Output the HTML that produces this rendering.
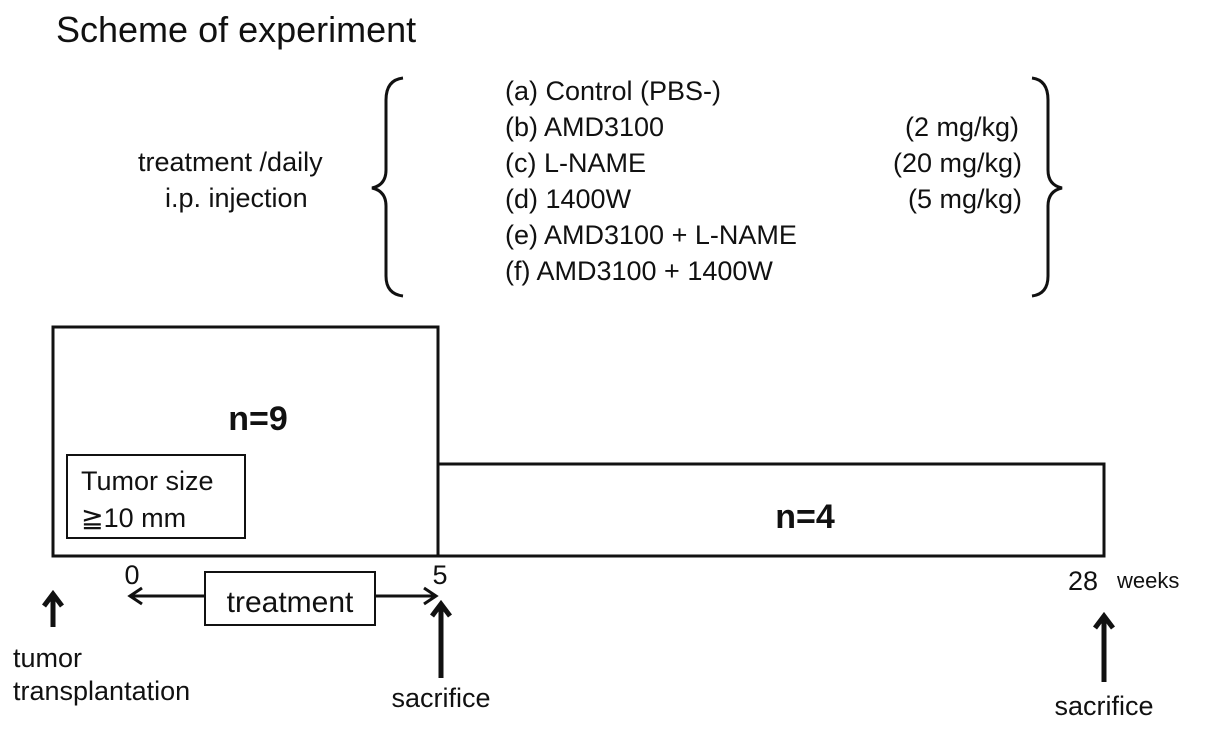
<!DOCTYPE html>
<html><head><meta charset="utf-8"><style>body{margin:0;background:#fff}svg{display:block}text{font-family:"Liberation Sans",Arial,sans-serif;fill:#111}</style></head>
<body>
<svg width="1205" height="729" viewBox="0 0 1205 729" xmlns="http://www.w3.org/2000/svg">
<text x="56" y="42" font-size="36">Scheme of experiment</text>
<text x="138" y="171" font-size="27">treatment /daily</text>
<text x="165" y="207" font-size="27">i.p. injection</text>
<path d="M403 78 Q386 80 386 100 L386 170 Q386 185 372 188 Q386 191 386 206 L386 276 Q386 294 403 296" fill="none" stroke="#111" stroke-width="3"/>
<path d="M1032 78 Q1048 80 1048 100 L1048 170 Q1048 185 1062 188 Q1048 191 1048 206 L1048 276 Q1048 294 1032 296" fill="none" stroke="#111" stroke-width="3"/>
<g font-size="27">
<text x="505" y="100">(a) Control  (PBS-)</text>
<text x="505" y="136">(b) AMD3100</text>
<text x="505" y="172">(c) L-NAME</text>
<text x="505" y="208">(d) 1400W</text>
<text x="505" y="244">(e) AMD3100 + L-NAME</text>
<text x="505" y="280">(f) AMD3100 + 1400W</text>
<text x="1019" y="136" text-anchor="end">(2 mg/kg)</text>
<text x="1022" y="172" text-anchor="end">(20 mg/kg)</text>
<text x="1022" y="208" text-anchor="end">(5 mg/kg)</text>
</g>
<rect x="53" y="327" width="385" height="229" fill="none" stroke="#111" stroke-width="3"/>
<rect x="438" y="464" width="666" height="92" fill="none" stroke="#111" stroke-width="3"/>
<text x="258" y="430" font-size="34" font-weight="bold" text-anchor="middle">n=9</text>
<text x="805" y="528" font-size="34" font-weight="bold" text-anchor="middle">n=4</text>
<rect x="67" y="455" width="178" height="83" fill="none" stroke="#111" stroke-width="2"/>
<text x="81" y="490" font-size="27">Tumor size</text>
<text x="81" y="527" font-size="27">≧10 mm</text>
<text x="132" y="584" font-size="27" text-anchor="middle">0</text>
<text x="440" y="584" font-size="27" text-anchor="middle">5</text>
<text x="1068" y="590" font-size="27">28</text>
<text x="1117" y="588" font-size="22">weeks</text>
<g stroke="#111" stroke-width="3" fill="none">
<line x1="130" y1="596" x2="205" y2="596"/>
<line x1="375" y1="596" x2="436" y2="596"/>
<polyline points="142,588 130,596 142,604"/>
<polyline points="424,588 436,596 424,604"/>
</g>
<rect x="205" y="572" width="170" height="53" fill="#fff" stroke="#111" stroke-width="2"/>
<text x="290" y="612" font-size="30" text-anchor="middle">treatment</text>
<g stroke="#111" stroke-width="5" fill="none">
<line x1="53" y1="596" x2="53" y2="627"/>
<polyline points="44,606 53,594 62,606"/>
<line x1="441" y1="604" x2="441" y2="678"/>
<polyline points="432,616 441,604 450,616"/>
<line x1="1104" y1="616" x2="1104" y2="682"/>
<polyline points="1095,628 1104,616 1113,628"/>
</g>
<text x="13" y="667" font-size="27">tumor</text>
<text x="13" y="700" font-size="27">transplantation</text>
<text x="441" y="707" font-size="27" text-anchor="middle">sacrifice</text>
<text x="1104" y="715" font-size="27" text-anchor="middle">sacrifice</text>
</svg>
</body></html>
